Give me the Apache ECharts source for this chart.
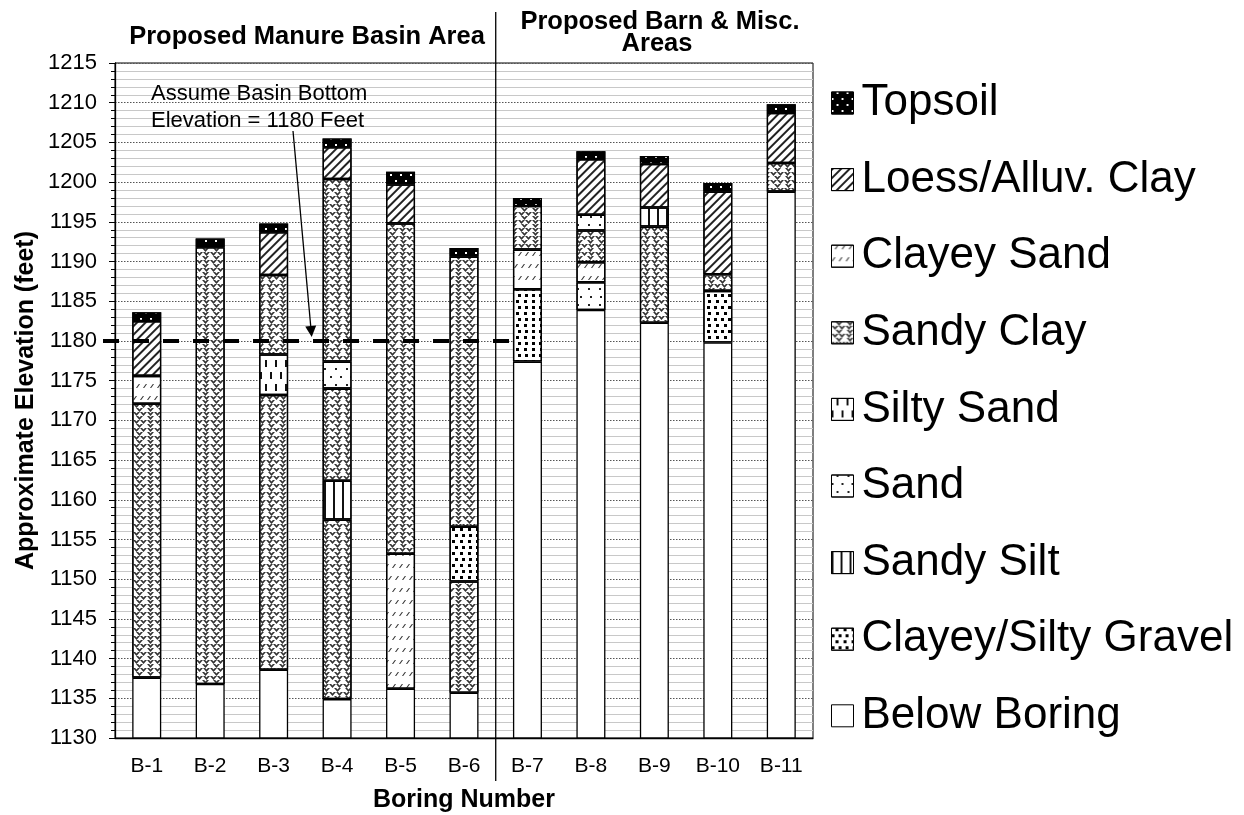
<!DOCTYPE html>
<html>
<head>
<meta charset="utf-8">
<script src="https://cdn.jsdelivr.net/npm/echarts@6/dist/echarts.min.js"></script>
<style>
html,body{margin:0;padding:0;background:#fff;}
#chart{width:1244px;height:815px;}
</style>
</head>
<body>
<div id="chart"></div>
<script>
// ---------------- DATA ----------------
const borings = ['B-1','B-2','B-3','B-4','B-5','B-6','B-7','B-8','B-9','B-10','B-11'];
const soilTypes = ['Topsoil','Loess/Alluv. Clay','Clayey Sand','Sandy Clay','Silty Sand','Sand','Sandy Silt','Clayey/Silty Gravel','Below Boring'];

// layers listed bottom -> top, with the elevation (feet) of the top of each layer
const b1Layers = ['Below Boring','Sandy Clay','Clayey Sand','Loess/Alluv. Clay','Topsoil'];
const b1Tops   = [1137.6, 1172.1, 1175.6, 1182.5, 1183.6];
const b2Layers = ['Below Boring','Sandy Clay','Topsoil'];
const b2Tops   = [1136.8, 1191.8, 1192.9];
const b3Layers = ['Below Boring','Sandy Clay','Silty Sand','Sandy Clay','Loess/Alluv. Clay','Topsoil'];
const b3Tops   = [1138.6, 1173.2, 1178.3, 1188.3, 1193.7, 1194.8];
const b4Layers = ['Below Boring','Sandy Clay','Sandy Silt','Sandy Clay','Sand','Sandy Clay','Loess/Alluv. Clay','Topsoil'];
const b4Tops   = [1134.9, 1157.5, 1162.4, 1174.0, 1177.4, 1200.4, 1204.4, 1205.5];
const b5Layers = ['Below Boring','Clayey Sand','Sandy Clay','Loess/Alluv. Clay','Topsoil'];
const b5Tops   = [1136.2, 1153.2, 1194.8, 1199.7, 1201.3];
const b6Layers = ['Below Boring','Sandy Clay','Clayey/Silty Gravel','Sandy Clay','Topsoil'];
const b6Tops   = [1135.7, 1149.7, 1156.6, 1190.6, 1191.7];
const b7Layers = ['Below Boring','Clayey/Silty Gravel','Clayey Sand','Sandy Clay','Topsoil'];
const b7Tops   = [1177.4, 1186.5, 1191.5, 1197.0, 1198.0];
const b8Layers = ['Below Boring','Sand','Clayey Sand','Sandy Clay','Sand','Loess/Alluv. Clay','Topsoil'];
const b8Tops   = [1183.9, 1187.4, 1189.9, 1193.9, 1195.9, 1202.9, 1203.9];
const b9Layers = ['Below Boring','Sandy Clay','Sandy Silt','Loess/Alluv. Clay','Topsoil'];
const b9Tops   = [1182.3, 1194.4, 1196.8, 1202.3, 1203.3];
const b10Layers = ['Below Boring','Clayey/Silty Gravel','Sandy Clay','Loess/Alluv. Clay','Topsoil'];
const b10Tops   = [1179.8, 1186.3, 1188.4, 1198.8, 1199.9];
const b11Layers = ['Below Boring','Sandy Clay','Loess/Alluv. Clay','Topsoil'];
const b11Tops   = [1198.8, 1202.4, 1208.7, 1209.8];

const basinBottom = 1180;
const yTicks = {min: 1130, max: 1215, interval: 5};

// ---------------- STYLES ----------------
const FONT = 'Liberation Sans, Arial, sans-serif';
const soilStyle = {
  'Topsoil': {color:'#000', decal:{symbol:'rect', color:'#fff', symbolSize:1, dashArrayX:[[2,8],[0,5,2,3]], dashArrayY:[2,4]}},
  'Loess/Alluv. Clay': {color:'#fff', decal:{symbol:'rect', color:'#222', symbolSize:1, dashArrayX:[1,0], dashArrayY:[1.6,3.2], rotation:-Math.PI/4}},
  'Clayey Sand': {color:'#fff', decal:{symbol:'path://M0 4 L1.2 4 L4 0 L2.8 0 Z', color:'#333', symbolSize:1, dashArrayX:[[4,2.5],[0,3,4,0]], dashArrayY:[4,8]}},
  'Sandy Clay': {color:'#fff', decal:{symbol:'path://M0 0 L2.4 0 L4 1.8 L5.6 0 L8 0 L4 4.6 Z', color:'#333', symbolSize:1, dashArrayX:[[7,0],[0,3.5,7,0]], dashArrayY:[4,0]}},
  'Silty Sand': {color:'#fff', decal:{symbol:'rect', color:'#111', symbolSize:1, dashArrayX:[[2,8],[0,5,2,3]], dashArrayY:[7,5]}},
  'Sand': {color:'#fff', decal:{symbol:'rect', color:'#222', symbolSize:1, dashArrayX:[[1.6,8],[0,4.8,1.6,3.2]], dashArrayY:[1.6,5.5]}},
  'Sandy Silt': {color:'#fff', decal:{symbol:'rect', color:'#111', symbolSize:1, dashArrayX:[1.6,6.5], dashArrayY:[10,0]}},
  'Clayey/Silty Gravel': {color:'#fff', decal:{symbol:'rect', color:'#000', symbolSize:1, dashArrayX:[[3,4],[0,3.5,3,0.5]], dashArrayY:[3,2.6]}},
  'Below Boring': {color:'#fff'}
};

// ---------------- BUILD ----------------
const allLayers = [b1Layers,b2Layers,b3Layers,b4Layers,b5Layers,b6Layers,b7Layers,b8Layers,b9Layers,b10Layers,b11Layers];
const allTops   = [b1Tops,b2Tops,b3Tops,b4Tops,b5Tops,b6Tops,b7Tops,b8Tops,b9Tops,b10Tops,b11Tops];
const maxSlots = Math.max(...allLayers.map(l => l.length));

function itemStyleFor(type){
  const s = soilStyle[type];
  const st = {color: s.color, borderColor:'#000', borderWidth:1.3};
  if (s.decal) st.decal = s.decal;
  return st;
}

const series = [];
for (let k = 0; k < maxSlots; k++) {
  const data = borings.map((b, i) => {
    const layers = allLayers[i], tops = allTops[i];
    if (k >= layers.length) return {value: null};
    const v = k === 0 ? tops[0] : +(tops[k] - tops[k-1]).toFixed(2);
    return {value: v, name: layers[k], itemStyle: itemStyleFor(layers[k])};
  });
  series.push({name: 'slot' + k, type:'bar', stack:'boring', barWidth:29, data, silent:true, clip:true});
}
// legend entries (one per soil type)
soilTypes.forEach(t => {
  series.push({name: t, type:'bar', stack:'boring', barWidth:29, data:[], itemStyle: itemStyleFor(t)});
});

const chart = echarts.init(document.getElementById('chart'), null, {renderer:'canvas'});
const option = {
  animation:false,
  backgroundColor:'#fff',
  textStyle:{fontFamily:FONT},
  grid:{left:115, right:431, top:63, bottom:77, show:true, borderColor:'#000', borderWidth:1, backgroundColor:'transparent', outerBoundsMode:'none', containLabel:false},
  legend:{
    orient:'vertical', left:826, top:75,
    data: soilTypes,
    itemWidth:22, itemHeight:22, itemGap:30.6,
    icon:'rect',
    selectedMode:false,
    textStyle:{fontFamily:FONT, fontSize:44, color:'#000', lineHeight:46, padding:[0,0,0,3]},
    itemStyle:{borderColor:'#000', borderWidth:1}
  },
  xAxis:{
    type:'category', data: borings,
    axisLine:{show:true, lineStyle:{color:'#000', width:1.3}},
    axisTick:{show:false},
    axisLabel:{fontFamily:FONT, fontSize:21, color:'#000', margin:18},
    name:'Boring Number', nameLocation:'middle', nameGap:50, nameMoveOverlap:false,
    nameTextStyle:{fontFamily:FONT, fontSize:25, fontWeight:'bold', color:'#000'}
  },
  yAxis:{
    type:'value', min:yTicks.min, max:yTicks.max, interval:yTicks.interval,
    axisLine:{show:true, lineStyle:{color:'#000', width:1.3}},
    axisTick:{show:true, length:6, lineStyle:{color:'#000'}},
    minorTick:{show:true, splitNumber:5, length:4, lineStyle:{color:'#000'}},
    splitLine:{show:true, lineStyle:{color:'#555', type:[1.5,1.5], width:1}},
    minorSplitLine:{show:true, lineStyle:{color:'#c8c8c8', width:1}},
    axisLabel:{fontFamily:FONT, fontSize:22, color:'#000', margin:18, formatter: v => String(v)},
    name:'Approximate Elevation (feet)', nameLocation:'middle', nameGap:76, nameRotate:90, nameMoveOverlap:false,
    nameTextStyle:{fontFamily:FONT, fontSize:25, fontWeight:'bold', color:'#000'}
  },
  series
};
chart.setOption(option);

// annotations positioned from the axes
const xB6 = chart.convertToPixel({xAxisIndex:0}, 5);
const xB7 = chart.convertToPixel({xAxisIndex:0}, 6);
const xDiv = (xB6 + xB7) / 2;
const yBasin = chart.convertToPixel({yAxisIndex:0}, basinBottom);
const yBottom = chart.convertToPixel({yAxisIndex:0}, yTicks.min);
const xB3 = chart.convertToPixel({xAxisIndex:0}, 2);
const xB4 = chart.convertToPixel({xAxisIndex:0}, 3);
const tipX = xB3 + (xB4 - xB3) * 0.6;
const tipY = yBasin - 4;
const startX = 293, startY = 131;
const ang = Math.atan2(tipY - startY, tipX - startX);
const ah = 11, aw = 5.5;
const bx = tipX - ah*Math.cos(ang), by = tipY - ah*Math.sin(ang);
const px = -Math.sin(ang), py = Math.cos(ang);

chart.setOption({
  graphic:[
    {type:'line', z:100, shape:{x1:xDiv, y1:12, x2:xDiv, y2:yBottom+43}, style:{stroke:'#000', lineWidth:1.3}},
    {type:'line', z:100, shape:{x1:103, y1:yBasin, x2:516, y2:yBasin}, style:{stroke:'#000', lineWidth:4, lineDash:[16,14]}},
    {type:'text', z:100, style:{text:'Proposed Manure Basin Area', x:307, y:37, align:'center', verticalAlign:'middle', font:'bold 25.5px ' + FONT, fill:'#000'}},
    {type:'text', z:100, style:{text:'Proposed Barn & Misc.', x:660, y:22, align:'center', verticalAlign:'middle', font:'bold 25.5px ' + FONT, fill:'#000'}},
    {type:'text', z:100, style:{text:'Areas', x:657, y:44, align:'center', verticalAlign:'middle', font:'bold 25.5px ' + FONT, fill:'#000'}},
    {type:'text', z:100, style:{text:'Assume Basin Bottom\nElevation = 1180 Feet', x:151, y:80, align:'left', verticalAlign:'top', font:'22px ' + FONT, lineHeight:27, fill:'#000'}},
    {type:'line', z:100, shape:{x1:startX, y1:startY, x2:bx, y2:by}, style:{stroke:'#000', lineWidth:1.3}},
    {type:'polygon', z:100, shape:{points:[[tipX,tipY],[bx+px*aw, by+py*aw],[bx-px*aw, by-py*aw]]}, style:{fill:'#000'}}
  ]
});
</script>
</body>
</html>
